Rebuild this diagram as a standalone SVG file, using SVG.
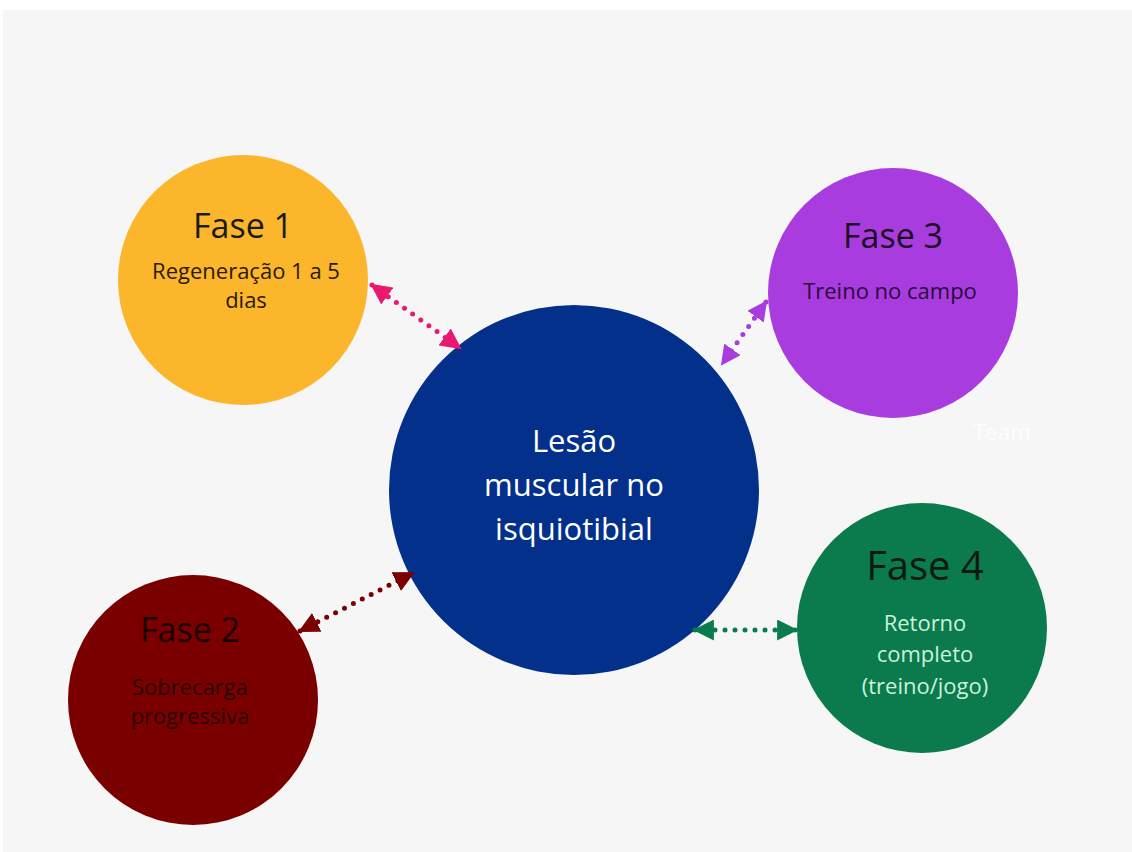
<svg xmlns="http://www.w3.org/2000/svg" width="1132" height="852" viewBox="0 0 1132 852">
<defs>
<style>
.t{font-family:"Open Sans","Noto Sans",sans-serif;text-anchor:middle}
.h{font-size:34px;font-weight:500}
.s{font-size:22px}
.c{stroke-width:5;stroke-linecap:round;stroke-dasharray:0 10;fill:none}
</style>
<marker id="mp" viewBox="0 0 10 10" refX="9" refY="5" markerWidth="4.2" markerHeight="4.2" orient="auto-start-reverse"><path d="M0,0 L10,5 L0,10 Z" fill="#e8196f"/></marker>
<marker id="mv" viewBox="0 0 10 10" refX="9" refY="5" markerWidth="4" markerHeight="4" orient="auto-start-reverse"><path d="M0,0 L10,5 L0,10 Z" fill="#a83cdf"/></marker>
<marker id="mr" viewBox="0 0 10 10" refX="9" refY="5" markerWidth="4.2" markerHeight="4.2" orient="auto-start-reverse"><path d="M0,0 L10,5 L0,10 Z" fill="#7a0000"/></marker>
<marker id="mg" viewBox="0 0 10 10" refX="9" refY="5" markerWidth="4.2" markerHeight="4.2" orient="auto-start-reverse"><path d="M0,0 L10,5 L0,10 Z" fill="#0b7a4c"/></marker>
</defs>
<rect x="0" y="0" width="1132" height="852" fill="#ffffff"/>
<rect x="3" y="10" width="1129" height="842" fill="#f6f6f6"/>
<g id="fase1">
<circle cx="243" cy="280" r="125" fill="#fbb62b"/>
<text class="t h" x="243" y="238" fill="#1a1a1a">Fase 1</text>
<text class="t s" x="246" y="279" fill="#2a1a00">Regeneração 1 a 5</text>
<text class="t s" x="246" y="308" fill="#2a1a00">dias</text>
</g>
<g id="fase3">
<circle cx="893" cy="293" r="125" fill="#a83cdf"/>
<text class="t h" x="893" y="248" fill="#1a0a22">Fase 3</text>
<text class="t s" x="890" y="299" fill="#2a0a38">Treino no campo</text>
</g>
<g id="fase2">
<circle cx="193" cy="700" r="125" fill="#7a0000"/>
<text class="t h" x="190" y="642" fill="#1a0000">Fase 2</text>
<text class="t s" x="190" y="695" fill="#2a0000">Sobrecarga</text>
<text class="t s" x="190" y="724" fill="#2a0000">progressiva</text>
</g>
<g id="fase4">
<circle cx="922" cy="628" r="125" fill="#0b7a4c"/>
<text class="t" x="925" y="580" font-size="40" fill="#0d1a12">Fase 4</text>
<text class="t s" x="925" y="631" fill="#c9f2dc">Retorno</text>
<text class="t s" x="925" y="662" fill="#c9f2dc">completo</text>
<text class="t s" x="925" y="694" fill="#c9f2dc">(treino/jogo)</text>
</g>
<g id="centro">
<circle cx="574" cy="490" r="185" fill="#03308a"/>
<text class="t" x="574" y="452" font-size="31" fill="#ffffff">Lesão</text>
<text class="t" x="574" y="496" font-size="31" fill="#ffffff">muscular no</text>
<text class="t" x="574" y="540" font-size="31" fill="#ffffff">isquiotibial</text>
</g>
<text class="t" x="1002" y="440" font-size="22" fill="#ffffff" fill-opacity="0.8">Team</text>
<g id="connectors">
<line class="c" x1="372" y1="285" x2="460" y2="348" stroke="#e8196f" marker-start="url(#mp)" marker-end="url(#mp)"/>
<line class="c" x1="766" y1="302" x2="722" y2="364" stroke="#a83cdf" marker-start="url(#mv)" marker-end="url(#mv)"/>
<line class="c" x1="300" y1="631" x2="413" y2="573" stroke="#7a0000" marker-start="url(#mr)" marker-end="url(#mr)"/>
<line class="c" x1="695" y1="630" x2="796" y2="630" stroke="#0b7a4c" marker-start="url(#mg)" marker-end="url(#mg)"/>
</g>
</svg>
